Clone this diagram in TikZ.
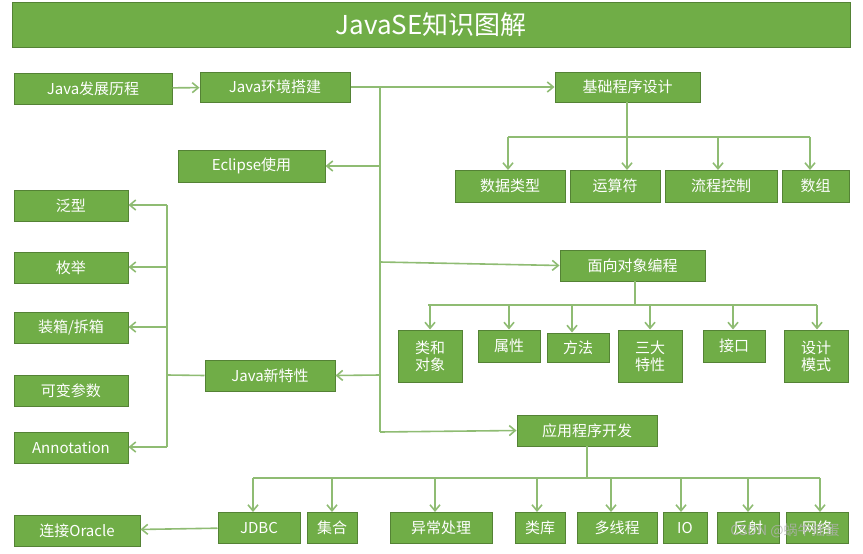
\documentclass[tikz,border=0pt]{standalone}
\usepackage{fontspec}
\setmainfont{Noto Sans CJK SC}
\usetikzlibrary{arrows.meta}
\begin{document}
\begin{tikzpicture}[x=1pt,y=-1pt,
  box/.style={draw=boxline,fill=boxfill,line width=1pt,text=white,font=\fontsize{15}{17}\selectfont,inner sep=0pt,align=center},
  ln/.style={draw=lnc,line width=1.6pt},
  ar/.style={ln,-{Straight Barb[length=6pt,width=10pt]}}]
\definecolor{boxfill}{HTML}{70AD47}
\definecolor{boxline}{HTML}{548235}
\definecolor{lnc}{HTML}{8FBC73}
\useasboundingbox (0,0) rectangle (863,554);
\newcommand\bx[6]{\node[box,minimum width=#4-#2,minimum height=#5-#3] (#1) at ({(#2+#4)/2},{(#3+#5)/2}) {#6};}
\node[box,minimum width=838,minimum height=45,font=\fontsize{26}{30}\selectfont] (title) at (431,24.5) {JavaSE知识图解};
\bx{hist}{14}{73}{172}{104}{Java发展历程}
\bx{env}{200}{72}{350}{102}{Java环境搭建}
\bx{basic}{555}{72}{700}{102}{基础程序设计}
\bx{ecl}{178}{150}{325}{182}{Eclipse使用}
\bx{dt}{455}{170}{565}{202}{数据类型}
\bx{op}{570}{170}{660}{202}{运算符}
\bx{flow}{665}{170}{777}{202}{流程控制}
\bx{arr}{782}{170}{849}{202}{数组}
\bx{gen}{14}{190}{128}{221}{泛型}
\bx{enm}{14}{252}{128}{283}{枚举}
\bx{box}{14}{312}{128}{343}{装箱/拆箱}
\bx{var}{14}{375}{128}{406}{可变参数}
\bx{ann}{14}{432}{128}{463}{Annotation}
\bx{oop}{560}{250}{705}{281}{面向对象编程}
\bx{cls}{398}{330}{462}{382}{类和\\对象}
\bx{attr}{478}{330}{540}{362}{属性}
\bx{meth}{547}{333}{609}{362}{方法}
\bx{three}{618}{330}{682}{382}{三大\\特性}
\bx{intf}{703}{330}{765}{362}{接口}
\bx{dp}{784}{330}{848}{382}{设计\\模式}
\bx{new}{205}{360}{335}{391}{Java新特性}
\bx{app}{517}{415}{657}{446}{应用程序开发}
\bx{ora}{14}{515}{140}{546}{连接Oracle}
\bx{jdbc}{218}{512}{300}{543}{JDBC}
\bx{col}{307}{512}{357}{543}{集合}
\bx{exc}{390}{512}{492}{543}{异常处理}
\bx{lib}{515}{512}{565}{543}{类库}
\bx{thr}{577}{512}{657}{543}{多线程}
\bx{io}{663}{512}{707}{543}{IO}
\bx{refl}{717}{512}{779}{543}{反射}
\bx{net}{786}{512}{848}{543}{网络}
% main
\draw[ar] (hist) -- (env);
\coordinate (t0) at (380,87);
\coordinate (t1) at (380,432);
\draw[ln] (env.east) -- (t0) -- (t1);
\draw[ar] (t0) -- (basic.west);
\draw[ar] (380,166) -- (ecl.east);
\draw[ar] (380,262) -- (oop.west);
\draw[ar] (380,375) -- (new.east);
\draw[ar] (t1) -- (app.west);
% basic
\draw[ln] (627,102) -- (627,137);
\draw[ln] (508,137) -- (810,137);
\foreach \x in {508,627,718,810} \draw[ar] (\x,137) -- (\x,170);
% oop
\draw[ln] (635,281) -- (635,305);
\draw[ln] (428,305) -- (817,305);
\foreach \n/\x in {cls/430,attr/509,meth/572,three/650,intf/733,dp/817} \draw[ar] (\x,305) -- (\x,305 |- \n.north);
% new features
\draw[ln] (new.west) -- (167,375);
\draw[ln] (167,205) -- (167,447);
\foreach \n/\y in {gen/205,enm/267,box/327,ann/447} \draw[ar] (167,\y) -- (\n.east |- 0,\y);
% app
\draw[ln] (587,446) -- (587,478);
\draw[ln] (253,478) -- (820,478);
\foreach \x in {253,332,435,537,611,681,748,820} \draw[ar] (\x,478) -- (\x,512);
\draw[ar] (jdbc) -- (ora);
\node[font=\fontsize{14}{16}\selectfont,text=gray!60,opacity=0.8] (wm) at (785,531) {CSDN @蜗牛摇蛋};
\end{tikzpicture}
\end{document}
